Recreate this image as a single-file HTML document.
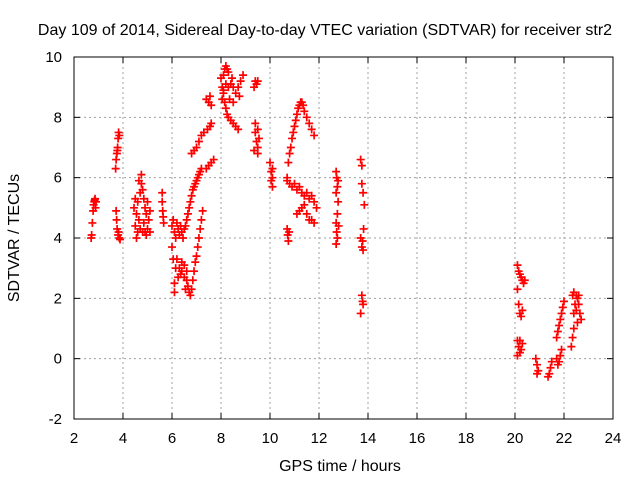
<!DOCTYPE html>
<html><head><meta charset="utf-8"><style>
body{margin:0;background:#fff;}
svg{display:block;font-family:"Liberation Sans",sans-serif;}
</style></head><body>
<svg id="chart" width="640" height="480">
<text x="325" y="35" text-anchor="middle" font-size="16">Day 109 of 2014, Sidereal Day-to-day VTEC variation (SDTVAR) for receiver str2</text>
<text x="340" y="471" text-anchor="middle" font-size="16">GPS time / hours</text>
<text transform="translate(19,238) rotate(-90)" text-anchor="middle" font-size="16">SDTVAR / TECUs</text>
<g id="grid"></g><g id="ticks"></g><g id="points"></g>
<rect x="74" y="57" width="539" height="362" fill="none" stroke="#000" stroke-width="1"/>
</svg>
<script>
const xTicks=[2,4,6,8,10,12,14,16,18,20,22,24];
const yTicks=[-2,0,2,4,6,8,10];
const times=[2.7,2.72,2.75,2.78,2.8,2.83,2.86,2.9,2.88,2.84,
3.7,3.72,3.75,3.78,3.8,3.82,3.85,3.77,3.72,3.74,3.76,3.8,3.85,3.88,3.82,
4.45,4.5,4.5,4.55,4.6,4.6,4.65,4.7,4.7,4.75,4.75,4.8,4.8,4.85,4.85,4.9,4.9,4.95,5.0,5.0,5.05,5.1,5.1,4.65,4.55,4.95,
5.6,5.6,5.62,5.64,5.66,
6.0,6.05,6.1,6.15,6.2,6.25,6.3,6.35,6.4,6.45,6.5,6.55,6.6,6.65,6.7,6.75,6.8,6.85,6.9,6.95,7.0,7.05,7.1,7.15,7.2,7.4,7.5,7.6,7.7,
6.0,6.05,6.1,6.1,6.15,6.2,6.3,6.35,6.4,6.5,6.6,6.65,6.7,6.75,6.8,6.85,6.9,6.95,7.0,7.05,7.1,7.15,7.2,7.25,6.25,6.4,6.5,6.55,6.6,
6.8,6.9,7.0,7.1,7.2,7.3,7.45,7.55,7.6,7.4,7.5,7.55,7.6,
8.0,8.05,8.1,8.15,8.2,8.25,8.3,8.1,8.15,8.2,8.25,8.3,8.4,8.5,8.6,8.7,8.05,8.1,8.3,8.4,8.5,8.6,8.7,8.8,8.9,8.75,8.5,8.45,8.2,8.35,
9.35,9.4,9.45,9.5,9.4,9.45,9.5,9.55,9.4,9.35,9.5,9.5,
10.0,10.05,10.1,10.1,10.05,10.1,
10.7,10.75,10.8,10.85,10.9,10.95,11.0,11.05,11.1,11.15,11.2,11.25,11.3,11.35,11.4,11.5,11.6,11.7,11.8,
10.7,10.8,10.9,11.0,11.1,11.2,11.3,11.4,11.5,11.6,11.7,11.8,11.9,11.3,11.2,11.1,11.4,11.5,11.6,11.7,11.8,
10.7,10.72,10.75,10.78,
12.7,12.72,12.75,12.7,12.78,12.75,12.7,12.72,12.75,12.7,12.8,12.78,
13.7,13.75,13.75,13.8,13.85,13.7,13.75,13.8,13.78,13.82,13.75,13.78,13.8,13.7,
20.1,20.15,20.2,20.25,20.3,20.35,20.4,20.1,20.15,20.2,20.25,20.3,20.1,20.15,20.2,20.25,20.3,20.2,20.1,
20.85,20.9,20.95,20.9,
21.35,21.4,21.45,21.5,
21.7,21.75,21.8,21.85,21.9,21.75,21.8,21.85,21.9,21.95,22.0,21.7,
22.3,22.35,22.4,22.4,22.45,22.35,22.4,22.5,22.55,22.6,22.65,22.7,22.6,22.5,22.55];
const values=[4.0,4.1,4.5,4.9,5.1,5.2,5.3,5.2,5.0,5.25,
6.3,6.6,6.8,7.0,7.3,7.5,7.4,6.9,4.9,4.6,4.3,4.1,4.0,3.95,4.2,
5.0,5.3,4.4,4.8,5.2,4.2,4.6,5.5,4.3,6.1,5.8,5.6,4.2,5.3,4.5,5.0,4.2,4.8,5.2,4.3,4.6,4.9,4.2,5.9,4.0,4.1,
5.5,5.2,4.9,4.7,4.5,
4.4,4.6,4.2,4.0,4.5,4.3,4.1,4.4,4.2,4.0,4.3,4.4,4.6,4.8,5.0,5.2,5.4,5.6,5.7,5.8,5.9,6.0,6.1,6.2,6.3,6.3,6.4,6.5,6.6,
3.7,3.3,2.2,2.5,3.0,3.3,3.0,2.8,2.9,2.7,2.6,2.4,2.2,2.1,2.3,2.6,2.9,3.2,3.4,3.7,4.0,4.3,4.6,4.9,2.7,3.2,3.1,2.3,2.9,
6.8,6.9,7.0,7.2,7.4,7.5,7.6,7.7,7.8,8.6,8.5,8.7,8.4,
9.3,9.0,9.4,9.6,9.7,9.6,9.5,8.8,8.5,8.3,8.1,8.0,7.9,7.8,7.7,7.6,8.6,8.9,9.0,9.1,9.0,8.8,9.0,9.2,9.4,8.7,8.5,9.3,9.1,8.6,
9.0,9.2,9.1,9.2,7.5,7.2,7.0,7.3,7.8,6.9,6.8,7.6,
6.5,6.2,6.0,5.7,5.9,6.3,
6.0,6.5,6.8,7.0,7.3,7.5,7.7,7.9,8.1,8.3,8.4,8.5,8.5,8.4,8.2,8.0,7.8,7.6,7.4,
5.9,5.8,5.7,5.8,5.6,5.7,5.5,5.4,5.5,5.3,5.4,5.2,5.0,5.0,4.9,4.8,5.1,4.8,4.6,4.6,4.5,
4.3,4.1,3.9,4.2,
6.2,6.0,5.7,5.5,5.2,4.8,4.5,4.2,4.0,3.8,4.4,5.9,
6.6,6.4,5.8,5.5,5.1,4.0,3.7,3.6,3.9,4.3,2.1,1.9,1.8,1.5,
3.1,2.9,2.8,2.7,2.6,2.5,2.6,2.3,1.8,1.5,1.4,1.6,0.6,0.4,0.2,0.3,0.5,0.6,0.1,
0.0,-0.2,-0.4,-0.5,
-0.6,-0.5,-0.3,-0.1,
0.0,-0.2,-0.1,0.1,0.3,0.9,1.1,1.3,1.5,1.7,1.9,0.7,
0.4,0.7,1.0,1.5,1.8,2.1,2.2,2.1,2.0,1.8,1.5,1.3,2.1,1.6,1.2];
const NS="http://www.w3.org/2000/svg";
const X0=74,X1=613,Y0=419,Y1=57;
function xs(t){return X0+(t-2)/22*(X1-X0);}
function ys(v){return Y0-(v+2)/12*(Y0-Y1);}
function mk(tag,attrs,parent){const e=document.createElementNS(NS,tag);for(const k in attrs)e.setAttribute(k,attrs[k]);parent.appendChild(e);return e;}
const grid=document.getElementById('grid'),ticks=document.getElementById('ticks'),pts=document.getElementById('points');
xTicks.forEach(t=>{const x=xs(t);
 if(t>2&&t<24){const g=mk('line',{x1:x,x2:x,y1:Y1,y2:Y0,stroke:'#a0a0a0','stroke-dasharray':'2,3'},grid);
 
 }
 mk('line',{x1:x,x2:x,y1:Y0,y2:Y0-6,stroke:'#000'},ticks);
 mk('line',{x1:x,x2:x,y1:Y1,y2:Y1+6,stroke:'#000'},ticks);
 const l=mk('text',{x:x,y:443,'text-anchor':'middle','font-size':'15'},ticks);l.textContent=t;
 
 
});
yTicks.forEach(v=>{const y=ys(v);
 if(v>-2&&v<10){const g=mk('line',{x1:X0,x2:X1,y1:y,y2:y,stroke:'#a0a0a0','stroke-dasharray':'2,3'},grid);
 
 }
 mk('line',{x1:X0,x2:X0+6,y1:y,y2:y,stroke:'#000'},ticks);
 mk('line',{x1:X1,x2:X1-6,y1:y,y2:y,stroke:'#000'},ticks);
 const l=mk('text',{x:62,y:y+5,'text-anchor':'end','font-size':'15'},ticks);l.textContent=v;
 
 
});
times.forEach((t,i)=>{const x=xs(t),y=ys(values[i]);
 const p=mk('path',{d:`M${x-4},${y}H${x+4}M${x},${y-4}V${y+4}`,stroke:'#ff0000','stroke-width':'1.7',fill:'none'},pts);
 
 
});
</script>
</body></html>
